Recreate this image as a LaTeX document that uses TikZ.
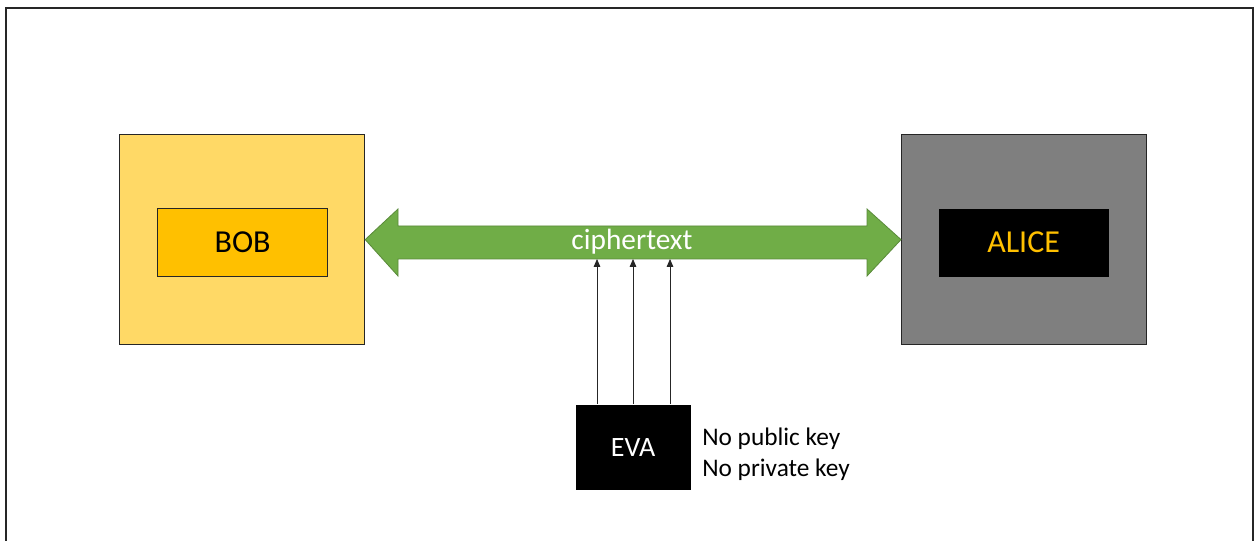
\documentclass[tikz,border=0pt]{standalone}
\usepackage{fontspec}
\setmainfont{Carlito}
\usetikzlibrary{arrows.meta}
\definecolor{boblight}{HTML}{FFD966}
\definecolor{bobgold}{HTML}{FFC000}
\definecolor{alicegray}{HTML}{7F7F7F}
\definecolor{chgreen}{HTML}{70AD47}
\definecolor{chgreenedge}{HTML}{5A8A3A}
\definecolor{frameedge}{HTML}{262626}
\tikzset{
  box/.style={draw=frameedge, line width=0.9pt, inner sep=0pt, anchor=north west},
  tap/.style={draw=black!85, line width=0.6pt, -{Triangle[length=6pt,width=5pt]}}
}
\begin{document}
\begin{tikzpicture}[x=0.75pt, y=-0.75pt]
  \useasboundingbox (0,0) rectangle (1259,541);
  \clip (0,0) rectangle (1259,541);
  % outer frame
  \draw[draw=frameedge, line width=1.4pt, fill=white] (6,8) rectangle (1253,600);

  % Bob
  \node[box, fill=boblight, minimum width=245*0.75pt, minimum height=210*0.75pt] (bobouter) at (119,134) {};
  \node[box, fill=bobgold, minimum width=170*0.75pt, minimum height=68*0.75pt] (bob) at (157,208) {};
  \node[font=\fontsize{24}{28}\selectfont, text=black] at (bob.center) {BOB};

  % Alice
  \node[box, fill=alicegray, minimum width=245*0.75pt, minimum height=210*0.75pt] (aliceouter) at (901,134) {};
  \node[box, draw=none, fill=black, minimum width=170*0.75pt, minimum height=68*0.75pt] (alice) at (938,208) {};
  \node[font=\fontsize{24}{28}\selectfont, text=bobgold] at (alice.center) {ALICE};

  % ciphertext channel (double-headed block arrow)
  \coordinate (ltip) at (bobouter.east);
  \coordinate (rtip) at (aliceouter.west);
  \draw[fill=chgreen, draw=chgreenedge, line width=0.6pt]
    (ltip) -- (398,209) -- (398,226) -- (867,226) -- (867,209) -- (rtip)
    -- (867,276) -- (867,259) -- (398,259) -- (398,276) -- cycle;
  \node[font=\fontsize{22}{26}\selectfont, text=white] (ct) at (632,242) {ciphertext};

  % Eva
  \node[box, draw=none, fill=black, minimum width=115*0.75pt, minimum height=85*0.75pt] (eva) at (575,404) {};
  \node[font=\fontsize{21}{25}\selectfont, text=white] at (eva.center) {EVA};
  \node[font=\fontsize{19}{23.25}\selectfont, anchor=west, align=left, inner sep=0pt] (evanote) at (702,454)
    {No public key\\No private key};

  % eavesdropping taps
  \coordinate (t1) at (597,259);
  \coordinate (t2) at (633,259);
  \coordinate (t3) at (670,259);
  \draw[tap] (eva.north -| t1) -- (t1);
  \draw[tap] (eva.north -| t2) -- (t2);
  \draw[tap] (eva.north -| t3) -- (t3);
\end{tikzpicture}
\end{document}
